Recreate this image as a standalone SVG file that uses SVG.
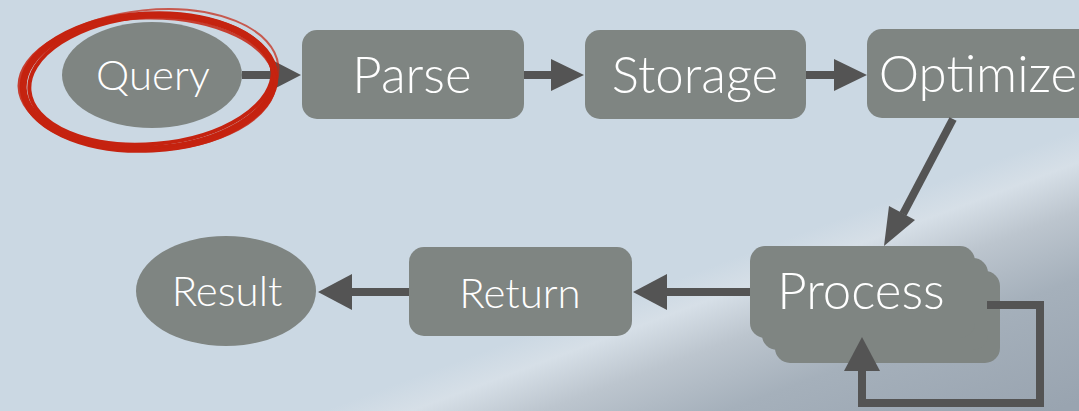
<svg xmlns="http://www.w3.org/2000/svg" width="1079" height="411" viewBox="0 0 1079 411">
<defs>
<style>
.node{fill:#7f8582}
.lbl{fill:#ffffff;font-family:Lato,"Open Sans","DejaVu Sans",sans-serif;font-weight:300;text-anchor:middle}
.edge{stroke:#545454;stroke-width:8;fill:none}
.head{fill:#545454}
.scr{fill:none;stroke:#c52310}
</style>
<linearGradient id="bg" x1="460" y1="360" x2="549" y2="599" gradientUnits="userSpaceOnUse">
<stop offset="0" stop-color="#cbd8e3"/>
<stop offset="0.12" stop-color="#d6dfe7"/>
<stop offset="0.3" stop-color="#bcc5ce"/>
<stop offset="0.55" stop-color="#a5b0bb"/>
<stop offset="1" stop-color="#99a4b0"/>
</linearGradient>
</defs>
<rect width="1079" height="411" fill="url(#bg)"/>

<g id="query">
<ellipse class="node" cx="152" cy="75" rx="90" ry="53"/>
<text class="lbl" x="153" y="90" font-size="42">Query</text>
</g>
<g id="parse">
<rect class="node" x="302" y="30" width="222" height="89" rx="15"/>
<text class="lbl" x="412" y="93" font-size="51">Parse</text>
</g>
<g id="storage">
<rect class="node" x="585" y="30" width="221" height="89" rx="15"/>
<text class="lbl" x="695" y="93" font-size="51">Storage</text>
</g>
<g id="optimize">
<rect class="node" x="867" y="29" width="230" height="89" rx="15"/>
<text class="lbl" x="978" y="92" font-size="51">Optimize</text>
</g>
<g id="process">
<rect class="node" x="775" y="271" width="225" height="92" rx="15"/>
<rect class="node" x="762" y="258" width="226" height="92" rx="15"/>
<rect class="node" x="750" y="246" width="225" height="92" rx="15"/>
<text class="lbl" x="861" y="309" font-size="51">Process</text>
</g>
<g id="return">
<rect class="node" x="409" y="247" width="223" height="89" rx="15"/>
<text class="lbl" x="520" y="308" font-size="42">Return</text>
</g>
<g id="result">
<ellipse class="node" cx="226" cy="291" rx="90" ry="55"/>
<text class="lbl" x="227" y="306" font-size="42">Result</text>
</g>

<g id="connectors">
<line class="edge" x1="242" y1="75" x2="272" y2="75"/>
<polygon class="head" points="270,59 301,75 270,91"/>
<line class="edge" x1="524" y1="75" x2="553" y2="75"/>
<polygon class="head" points="551,59 584,75 551,91"/>
<line class="edge" x1="806" y1="75" x2="836" y2="75"/>
<polygon class="head" points="834,59 867,75 834,91"/>
<line class="edge" x1="953" y1="119" x2="903" y2="214"/>
<polygon class="head" points="889,206 915,220 884,246"/>
<line class="edge" x1="750" y1="292" x2="664" y2="292"/>
<polygon class="head" points="667,274 633,292 667,310"/>
<line class="edge" x1="409" y1="292" x2="349" y2="292"/>
<polygon class="head" points="352,274 318,292 352,310"/>
<polyline class="edge" points="987,305 1040,305 1040,403 862,403 862,368"/>
<polygon class="head" points="844,371 862,337 880,371"/>
</g>

<g id="highlight">
<ellipse class="scr" cx="149" cy="82" rx="126" ry="67" stroke-width="7" transform="rotate(-3 149 82)"/>
<ellipse class="scr" cx="151" cy="80" rx="122" ry="64" stroke-width="4" transform="rotate(-5 151 80)"/>
<ellipse class="scr" cx="147" cy="84" rx="128" ry="66" stroke-width="3" transform="rotate(-1 147 84)" stroke-opacity="0.85"/>
<ellipse class="scr" cx="150" cy="79" rx="129" ry="69" stroke-width="2" transform="rotate(-6 150 79)" stroke-opacity="0.7"/>
</g>
</svg>
